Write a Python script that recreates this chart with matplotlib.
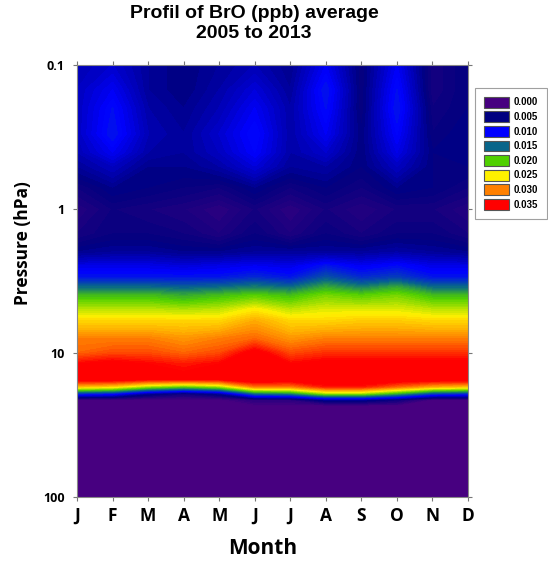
import numpy as np
import matplotlib
matplotlib.use("Agg")
import matplotlib.pyplot as plt
from matplotlib.colors import LinearSegmentedColormap
from matplotlib.patches import Patch
from matplotlib.ticker import NullLocator

# months and pressure levels (hPa)
month_labels = ["J", "F", "M", "A", "M", "J", "J", "A", "S", "O", "N", "D"]
months = np.arange(len(month_labels))
pressure = [0.1, 0.15, 0.2, 0.3, 0.4, 0.5, 0.7, 1.0, 1.5, 2.0, 2.5, 3.0, 3.5,
            4.0, 5.0, 6.0, 8.0, 10, 12, 15, 17, 19, 21, 23, 30, 100]

# BrO mixing ratio (ppb), one row per pressure level, columns J..D
bro = [
    [0.007, 0.008, 0.006, 0.005, 0.006, 0.007, 0.0055, 0.0095, 0.0045, 0.0095, 0.0035, 0.005],
    [0.0075, 0.0095, 0.006, 0.005, 0.0065, 0.0085, 0.006, 0.011, 0.0045, 0.0105, 0.0035, 0.005],
    [0.0075, 0.0105, 0.0065, 0.0055, 0.007, 0.0095, 0.0065, 0.0105, 0.0045, 0.011, 0.004, 0.005],
    [0.0075, 0.011, 0.007, 0.006, 0.008, 0.0105, 0.0065, 0.0095, 0.005, 0.010, 0.0045, 0.0055],
    [0.007, 0.0095, 0.0065, 0.006, 0.0075, 0.010, 0.0065, 0.008, 0.005, 0.009, 0.005, 0.0055],
    [0.006, 0.0075, 0.0055, 0.0055, 0.0065, 0.0085, 0.006, 0.0065, 0.005, 0.0075, 0.005, 0.005],
    [0.004, 0.0055, 0.005, 0.0045, 0.004, 0.0055, 0.004, 0.005, 0.004, 0.0055, 0.005, 0.004],
    [0.0025, 0.004, 0.0035, 0.003, 0.002, 0.0035, 0.002, 0.0035, 0.0025, 0.0035, 0.0035, 0.0025],
    [0.0035, 0.0045, 0.0045, 0.004, 0.003, 0.0045, 0.003, 0.0045, 0.0035, 0.0045, 0.0045, 0.0035],
    [0.0055, 0.006, 0.006, 0.0055, 0.0055, 0.006, 0.006, 0.006, 0.006, 0.0065, 0.006, 0.0055],
    [0.009, 0.009, 0.009, 0.0085, 0.009, 0.0095, 0.009, 0.011, 0.0095, 0.0105, 0.009, 0.009],
    [0.011, 0.011, 0.011, 0.011, 0.011, 0.012, 0.011, 0.014, 0.012, 0.013, 0.011, 0.011],
    [0.015, 0.015, 0.015, 0.0145, 0.015, 0.016, 0.015, 0.018, 0.016, 0.018, 0.015, 0.015],
    [0.019, 0.019, 0.019, 0.018, 0.019, 0.020, 0.019, 0.021, 0.020, 0.021, 0.019, 0.019],
    [0.023, 0.023, 0.023, 0.0225, 0.023, 0.025, 0.023, 0.024, 0.024, 0.024, 0.023, 0.023],
    [0.026, 0.026, 0.026, 0.026, 0.026, 0.028, 0.026, 0.026, 0.0265, 0.0265, 0.026, 0.026],
    [0.030, 0.030, 0.030, 0.029, 0.030, 0.031, 0.029, 0.030, 0.030, 0.030, 0.030, 0.030],
    [0.031, 0.032, 0.032, 0.031, 0.032, 0.036, 0.032, 0.033, 0.033, 0.033, 0.033, 0.033],
    [0.035, 0.036, 0.035, 0.034, 0.035, 0.038, 0.035, 0.036, 0.036, 0.036, 0.036, 0.036],
    [0.037, 0.037, 0.036, 0.036, 0.036, 0.038, 0.037, 0.037, 0.037, 0.037, 0.037, 0.037],
    [0.027, 0.026, 0.022, 0.020, 0.022, 0.030, 0.030, 0.034, 0.034, 0.031, 0.028, 0.027],
    [0.012, 0.011, 0.006, 0.004, 0.006, 0.015, 0.016, 0.022, 0.022, 0.018, 0.013, 0.012],
    [0.0, 0.0, 0.0, 0.0, 0.0, 0.002, 0.002, 0.006, 0.006, 0.004, 0.0, 0.0],
    [0.0] * 12,
    [0.0] * 12,
    [0.0] * 12,
]

# legend classes
legend_values = [0.000, 0.005, 0.010, 0.015, 0.020, 0.025, 0.030, 0.035]
legend_colors = ["#470080", "#000080", "#0000FF", "#08658A",
                 "#50D000", "#FFF000", "#FF8000", "#FF0000"]

cmap = LinearSegmentedColormap.from_list(
    "bro", list(zip(np.linspace(0, 1, len(legend_colors)), legend_colors)))
cmap.set_over("#FF0000")
cmap.set_under("#470080")

fig = plt.figure(figsize=(5.48, 5.62), dpi=100)
ax = fig.add_axes([77 / 548, 1 - 497 / 562, 391 / 548, 432 / 562])

levels = np.arange(0, 0.03501, 0.0005)
cs = ax.contourf(months, pressure, np.array(bro), levels=levels, cmap=cmap,
                 extend="both")
# hide the hairline seams between filled bands
cs.set_edgecolor("face")
cs.set_linewidth(0.6)

ax.set_yscale("log")
ax.set_ylim(100, 0.1)
ax.set_xlim(0, 11)
ax.yaxis.set_minor_locator(NullLocator())
ax.set_yticks([0.1, 1, 10, 100])

tick_font = {"family": "Open Sans", "weight": "bold"}
ax.set_yticklabels(["0.1", "1", "10", "100"], fontdict=dict(tick_font, size=9))
ax.set_xticks(months)
ax.set_xticklabels(month_labels, fontdict=dict(tick_font, size=12.5))

ax.tick_params(axis="both", direction="out", length=3, width=0.8,
               color="#777777", top=True, right=True)
ax.tick_params(axis="y", pad=6)
ax.tick_params(axis="x", pad=4)
for sp in ax.spines.values():
    sp.set_color("#888888")
    sp.set_linewidth(0.8)
    sp.set_zorder(5)

# axis labels
fig.text(263 / 548, 1 - 549 / 562, "Month", ha="center", va="center",
         family="Open Sans", weight="bold", fontsize=15)
fig.text(23 / 548, 1 - 243 / 562, "Pressure (hPa)", ha="center", va="center",
         rotation=90, family="Open Sans", weight="bold", fontsize=12.5)

# title
fig.text(254 / 548, 1 - 5 / 562, "Profil of BrO (ppb) average\n2005 to 2013",
         ha="center", va="top", family="Liberation Sans", weight="bold",
         fontsize=14, linespacing=1.25)

# legend
handles = [Patch(facecolor=c, edgecolor="#555555", linewidth=0.8)
           for c in legend_colors]
labels = [f"{v:.3f}" for v in legend_values]
leg = fig.legend(handles, labels, loc="upper left",
                 bbox_to_anchor=(475 / 548, 1 - 88 / 562),
                 prop={"family": "Liberation Sans", "weight": "bold", "size": 7},
                 handlelength=2.6, handleheight=1.35, labelspacing=0.38,
                 handletextpad=0.5, borderpad=0.9, borderaxespad=0,
                 frameon=True, fancybox=False, edgecolor="#888888")
leg.get_frame().set_linewidth(0.8)

fig.savefig("out.png", dpi=100)
